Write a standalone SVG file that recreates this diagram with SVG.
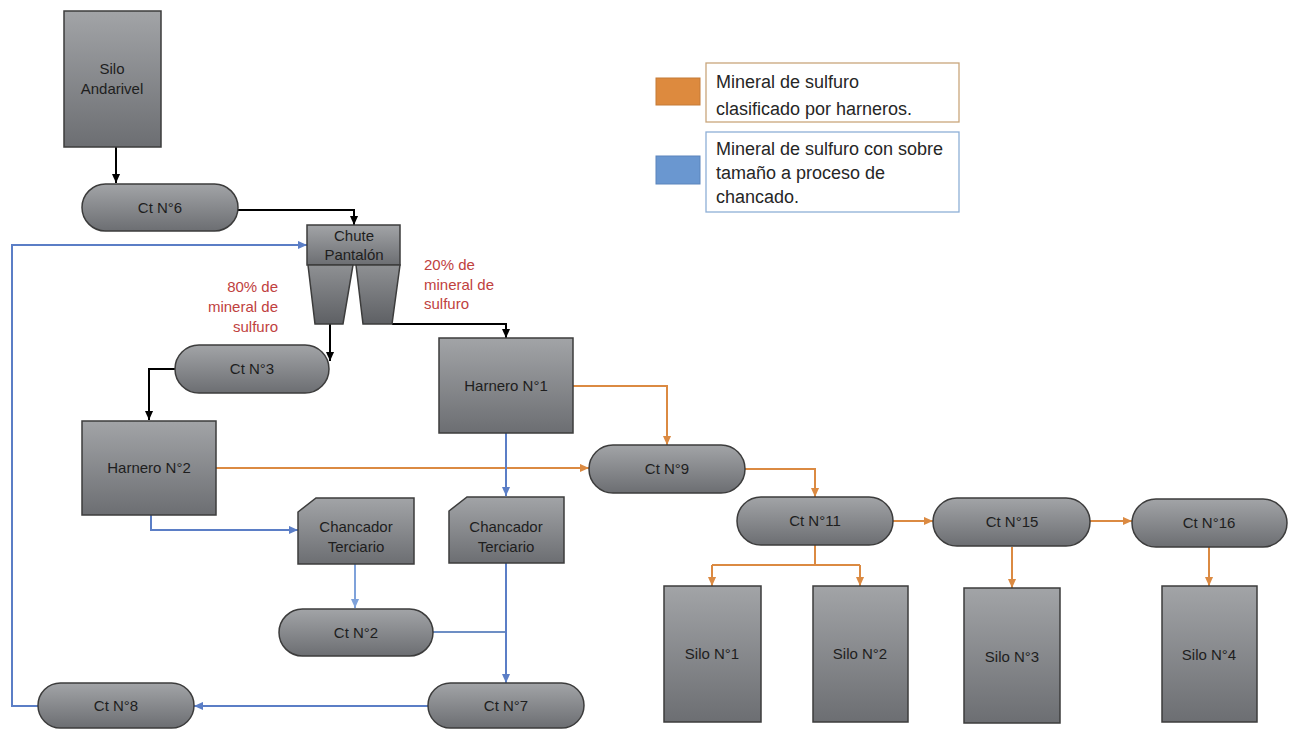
<svg xmlns="http://www.w3.org/2000/svg" width="1293" height="730" viewBox="0 0 1293 730">
<defs>
<linearGradient id="g" x1="0" y1="0" x2="0" y2="1">
<stop offset="0" stop-color="#A2A4A7"/>
<stop offset="1" stop-color="#6C6E72"/>
</linearGradient>
<linearGradient id="gl" x1="0" y1="0" x2="0" y2="1">
<stop offset="0" stop-color="#8E9093"/>
<stop offset="1" stop-color="#5E6064"/>
</linearGradient>
<marker id="ak" viewBox="0 0 10 10" refX="10" refY="5" markerWidth="9" markerHeight="9" markerUnits="userSpaceOnUse" orient="auto"><path d="M0,0.5 L10,5 L0,9.5 z" fill="#000"/></marker>
<marker id="ao" viewBox="0 0 10 10" refX="10" refY="5" markerWidth="9" markerHeight="9" markerUnits="userSpaceOnUse" orient="auto"><path d="M0,0.5 L10,5 L0,9.5 z" fill="#DB8A42"/></marker>
<marker id="ab" viewBox="0 0 10 10" refX="10" refY="5" markerWidth="9" markerHeight="9" markerUnits="userSpaceOnUse" orient="auto"><path d="M0,0.5 L10,5 L0,9.5 z" fill="#5B7EC6"/></marker>
<marker id="al" viewBox="0 0 10 10" refX="10" refY="5" markerWidth="9" markerHeight="9" markerUnits="userSpaceOnUse" orient="auto"><path d="M0,0.5 L10,5 L0,9.5 z" fill="#7FA2DA"/></marker>
</defs>
<style>
.n{fill:url(#g);stroke:#3C3C3C;stroke-width:1.5}
.leg{fill:url(#gl);stroke:#3C3C3C;stroke-width:1.5}
.t{font-family:"Liberation Sans",Arial,sans-serif;font-size:15px;fill:#1E1E1E;text-anchor:middle}
.r{font-family:"Liberation Sans",Arial,sans-serif;font-size:15px;fill:#C0413E}
.lg{font-family:"Liberation Sans",Arial,sans-serif;font-size:18px;fill:#262626}
.k{fill:none;stroke:#000;stroke-width:2}
.o{fill:none;stroke:#DB8A42;stroke-width:2}
.b{fill:none;stroke:#5B7EC6;stroke-width:2}
.bl{fill:none;stroke:#7FA2DA;stroke-width:2}
</style>
<rect width="1293" height="730" fill="#FFFFFF"/>

<g id="connectors">
<path class="k" d="M116,147 V183" marker-end="url(#ak)"/>
<path class="k" d="M238,210 H354 V225" marker-end="url(#ak)"/>
<path class="k" d="M330,324 V361" marker-end="url(#ak)"/>
<path class="k" d="M392,324 H506 V338" marker-end="url(#ak)"/>
<path class="k" d="M175,369 H149 V420" marker-end="url(#ak)"/>
<path class="o" d="M216,468 H589" marker-end="url(#ao)"/>
<path class="o" d="M573,386 H667 V445" marker-end="url(#ao)"/>
<path class="o" d="M745,469 H815 V497" marker-end="url(#ao)"/>
<path class="o" d="M815,545 V565 M712,565 H860"/>
<path class="o" d="M712,565 V586" marker-end="url(#ao)"/>
<path class="o" d="M860,565 V586" marker-end="url(#ao)"/>
<path class="o" d="M893,521 H933" marker-end="url(#ao)"/>
<path class="o" d="M1090,521 H1132" marker-end="url(#ao)"/>
<path class="o" d="M1012,547 V588" marker-end="url(#ao)"/>
<path class="o" d="M1209,547 V586" marker-end="url(#ao)"/>
<path class="b" d="M506,433 V496" marker-end="url(#ab)"/>
<path class="b" d="M151,515 V530 H298" marker-end="url(#ab)"/>
<path class="bl" d="M355,564 V608" marker-end="url(#al)"/>
<path class="b" d="M433,632 H506" style="stroke:#6D8EC4"/>
<path class="b" d="M506,563 V683" marker-end="url(#ab)"/>
<path class="b" d="M428,706 H194" marker-end="url(#ab)"/>
<path class="b" d="M38,706 H12 V245 H307" marker-end="url(#ab)"/>
</g>

<g id="silo-andarivel"><rect class="n" x="64" y="11" width="97" height="136"/><text class="t" x="112" y="74">Silo</text><text class="t" x="112" y="94">Andarivel</text></g>
<g id="ct6"><rect class="n" x="82" y="184" width="156" height="47" rx="23.5"/><text class="t" x="160" y="213">Ct N°6</text></g>
<g id="chute-pantalon">
<rect class="n" x="307" y="225" width="93" height="40"/>
<path class="leg" d="M308,265 H353 L343,324 H315 Z"/>
<path class="leg" d="M356,265 H400 L392,324 H363 Z"/>
<text class="t" x="354" y="241">Chute</text><text class="t" x="354" y="260">Pantalón</text>
</g>
<g id="lbl-80"><text class="r" text-anchor="end" x="278" y="292">80% de</text><text class="r" text-anchor="end" x="278" y="312">mineral de</text><text class="r" text-anchor="end" x="278" y="332">sulfuro</text></g>
<g id="lbl-20"><text class="r" x="424" y="270">20% de</text><text class="r" x="424" y="290">mineral de</text><text class="r" x="424" y="309">sulfuro</text></g>
<g id="ct3"><rect class="n" x="175" y="345" width="154" height="48" rx="24"/><text class="t" x="252" y="374">Ct N°3</text></g>
<g id="harnero1"><rect class="n" x="439" y="338" width="134" height="95"/><text class="t" x="506" y="391">Harnero N°1</text></g>
<g id="harnero2"><rect class="n" x="82" y="421" width="134" height="94"/><text class="t" x="149" y="473">Harnero N°2</text></g>
<g id="ct9"><rect class="n" x="589" y="445" width="156" height="48" rx="24"/><text class="t" x="667" y="474">Ct N°9</text></g>
<g id="chancador1"><path class="n" d="M316,498 H414 V564 H298 V512 Z"/><text class="t" x="356" y="532">Chancador</text><text class="t" x="356" y="552">Terciario</text></g>
<g id="chancador2"><path class="n" d="M467,497 H564 V563 H449 V511 Z"/><text class="t" x="506" y="532">Chancador</text><text class="t" x="506" y="552">Terciario</text></g>
<g id="ct11"><rect class="n" x="737" y="497" width="156" height="48" rx="24"/><text class="t" x="815" y="526">Ct N°11</text></g>
<g id="ct15"><rect class="n" x="933" y="498" width="157" height="48" rx="24"/><text class="t" x="1012" y="527">Ct N°15</text></g>
<g id="ct16"><rect class="n" x="1132" y="499" width="155" height="48" rx="24"/><text class="t" x="1209" y="528">Ct N°16</text></g>
<g id="ct2"><rect class="n" x="279" y="609" width="154" height="47" rx="23.5"/><text class="t" x="356" y="638">Ct N°2</text></g>
<g id="ct7"><rect class="n" x="428" y="683" width="156" height="45" rx="22.5"/><text class="t" x="506" y="711">Ct N°7</text></g>
<g id="ct8"><rect class="n" x="38" y="683" width="156" height="45" rx="22.5"/><text class="t" x="116" y="711">Ct N°8</text></g>
<g id="silo1"><rect class="n" x="664" y="586" width="97" height="136"/><text class="t" x="712" y="659">Silo N°1</text></g>
<g id="silo2"><rect class="n" x="813" y="586" width="95" height="136"/><text class="t" x="860" y="659">Silo N°2</text></g>
<g id="silo3"><rect class="n" x="964" y="588" width="96" height="135"/><text class="t" x="1012" y="662">Silo N°3</text></g>
<g id="silo4"><rect class="n" x="1162" y="586" width="95" height="136"/><text class="t" x="1209" y="660">Silo N°4</text></g>

<g id="legend">
<rect x="656" y="78" width="44" height="27" fill="#DD8A3E" stroke="#C47A36" stroke-width="1"/>
<rect x="706" y="63" width="253" height="59" fill="#FFFFFF" stroke="#C9A67C" stroke-width="1.3"/>
<text class="lg" x="716" y="88">Mineral de sulfuro</text>
<text class="lg" x="716" y="115">clasificado por harneros.</text>
<rect x="656" y="156" width="44" height="28" fill="#6A97D0" stroke="#5A84BC" stroke-width="1"/>
<rect x="706" y="132" width="253" height="80" fill="#FFFFFF" stroke="#8EAFD6" stroke-width="1.3"/>
<text class="lg" x="716" y="155">Mineral de sulfuro con sobre</text>
<text class="lg" x="716" y="179">tamaño a proceso de</text>
<text class="lg" x="716" y="203">chancado.</text>
</g>
</svg>
